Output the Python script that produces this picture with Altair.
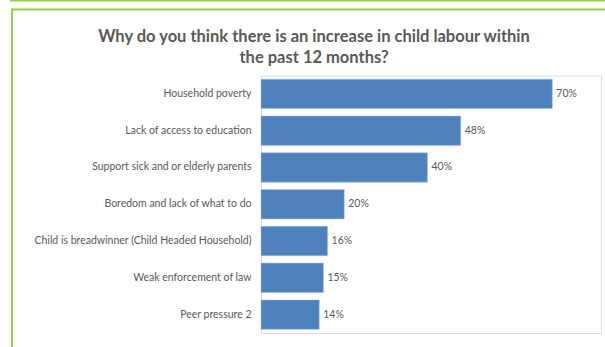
import altair as alt
import pandas as pd

categories = [
    "Household poverty",
    "Lack of access to education",
    "Support sick and or elderly parents",
    "Boredom and lack of what to do",
    "Child is breadwinner (Child Headed Household)",
    "Weak enforcement of law",
    "Peer pressure 2",
]
values = [70, 48, 40, 20, 16, 15, 14]
title_lines = ["Why do you think there is an increase in child labour within", "the past 12 months?"]

df = pd.DataFrame({"reason": categories, "pct": values})
df["label"] = df["pct"].astype(str) + "%"

FONT = "Lato"
GREY = "#595959"
GREEN = "#92d050"

base = alt.Chart(df)

y_enc = alt.Y(
    "reason:N",
    sort=categories,
    title=None,
    scale=alt.Scale(paddingInner=0.2, paddingOuter=0.1),
    axis=alt.Axis(
        ticks=False,
        domainColor="#d9d9d9",
        domainWidth=1,
        labelPadding=10,
        labelFont=FONT,
        labelFontSize=10.5,
        labelColor=GREY,
        labelLimit=400,
    ),
)
x_enc = alt.X("pct:Q", scale=alt.Scale(domain=[0, 81.7], nice=False), axis=None)

bars = base.mark_bar(color="#4f81bd", stroke="#a8c1e0", strokeWidth=0.6).encode(x=x_enc, y=y_enc)
labels = base.mark_text(align="left", dx=4, font=FONT, fontSize=10.5, color=GREY).encode(
    x=x_enc, y=y_enc, text="label:N"
)

deco = alt.Data(values=[{}])
top_line = alt.Chart(deco).mark_rule(color=GREEN, strokeWidth=2).encode(
    x=alt.value(-251), x2=alt.value(346), y=alt.value(-75)
)
frame_top = alt.Chart(deco).mark_rule(color=GREEN, strokeWidth=2).encode(
    x=alt.value(-250), x2=alt.value(346), y=alt.value(-66)
)
frame_left = alt.Chart(deco).mark_rule(color=GREEN, strokeWidth=2).encode(
    x=alt.value(-249), y=alt.value(-67), y2=alt.value(272)
)

title_style = dict(align="center", baseline="alphabetic", font=FONT, fontSize=16.5,
                   fontWeight="bold", color=GREY)
title1 = alt.Chart(alt.Data(values=[{"t": title_lines[0]}])).mark_text(**title_style).encode(
    x=alt.value(53), y=alt.value(-34), text="t:N"
)
title2 = alt.Chart(alt.Data(values=[{"t": title_lines[1]}])).mark_text(**title_style).encode(
    x=alt.value(53), y=alt.value(-12.5), text="t:N"
)

chart = (
    alt.layer(top_line, frame_top, frame_left, title1, title2, bars, labels)
    .properties(
        width=340,
        height=257.5,
        autosize=alt.AutoSizeParams(type="none"),
        padding={"left": 261, "top": 75.5, "right": 4, "bottom": 14},
    )
    .configure_view(stroke="transparent", strokeWidth=0)
    .configure(background="white")
)

chart.save("out.html", embed_options={"renderer": "svg", "actions": False})
